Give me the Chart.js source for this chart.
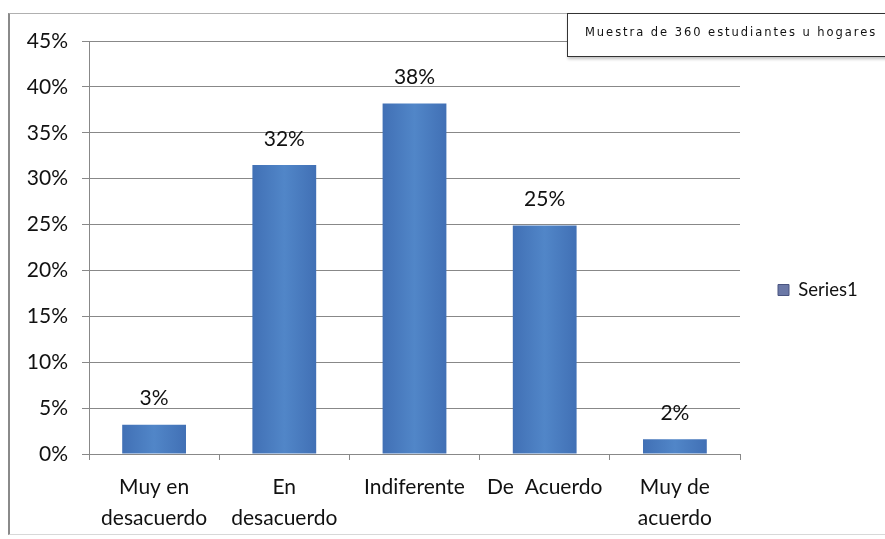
<!DOCTYPE html>
<html><head><meta charset="utf-8">
<script src="https://cdn.jsdelivr.net/npm/chart.js@4/dist/chart.umd.min.js"></script>
<style>
html,body{margin:0;padding:0;background:#fff;}
#wrap{position:relative;width:885px;height:539px;overflow:hidden;}
#frame{position:absolute;left:8px;top:13px;width:900px;height:520px;border-left:2px solid #8a8a8a;border-top:1px solid #b0b0b0;border-bottom:1px solid #d8d8d8;}
#note{position:absolute;left:567px;top:13px;width:330px;height:44px;border:1.5px solid #333;background:#fff;box-shadow:1px 2px 3px rgba(0,0,0,0.25);font-family:"DejaVu Sans",sans-serif;font-size:11.5px;color:#111;line-height:36px;padding-left:17px;box-sizing:border-box;letter-spacing:1.95px;white-space:nowrap;}
canvas{position:absolute;left:0;top:0;}
</style></head>
<body><div id="wrap"><div id="frame"></div><canvas id="c" width="885" height="539"></canvas><div id="note">Muestra de 360 estudiantes u hogares</div></div>
<script>
const categories = [["Muy en","desacuerdo"],["En","desacuerdo"],"Indiferente","De  Acuerdo",["Muy de","acuerdo"]];
const seriesName = "Series1";
const values = [0.032, 0.315, 0.382, 0.249, 0.016];
const valueLabels = ["3%","32%","38%","25%","2%"];
const yTicks = [0,0.05,0.10,0.15,0.20,0.25,0.30,0.35,0.40,0.45];

const FONT = "Lato, 'Open Sans', sans-serif";
const FS = 21;
const ctx = document.getElementById('c').getContext('2d');

const labelPlugin = {
  id:'valLabels',
  afterDatasetsDraw(chart){
    const c = chart.ctx;
    const meta = chart.getDatasetMeta(0);
    c.save();
    c.font = FS + "px " + FONT;
    c.fillStyle = "#111";
    c.textAlign = "center";
    c.textBaseline = "middle";
    meta.data.forEach((bar,i)=>{
      c.fillText(valueLabels[i], bar.x, bar.y - 26);
    });
    c.restore();
  }
};
const legendFit = {
  id:'legendFit',
  beforeInit(chart){
    const fit = chart.legend.fit;
    chart.legend.fit = function(){ fit.bind(chart.legend)(); this.width = 145; };
  }
};

function barGradient(context){
  const chart = context.chart;
  const el = context.element;
  if(!el || !chart.chartArea || !Number.isFinite(el.x) || !Number.isFinite(el.width)) return '#4a7ebb';
  const w = el.width;
  const g = chart.ctx.createLinearGradient(el.x - w/2, 0, el.x + w/2, 0);
  g.addColorStop(0,'#4170b5');
  g.addColorStop(0.5,'#5186c8');
  g.addColorStop(1,'#4170b5');
  return g;
}

const chart = new Chart(ctx,{
  type:'bar',
  data:{labels:categories,datasets:[{label:seriesName,data:values,
    backgroundColor:barGradient,borderWidth:0,
    categoryPercentage:1,barPercentage:0.49}]},
  options:{
    responsive:false,animation:false,
    layout:{padding:{left:9,top:41,right:0,bottom:0}},
    plugins:{
      legend:{position:'right',
        labels:{font:{size:18.5,family:FONT},color:'#111',boxWidth:11,boxHeight:11,padding:38,
          generateLabels(chart){return [{text:seriesName,fillStyle:'#6b78a6',strokeStyle:'#4a5580',lineWidth:1,datasetIndex:0,fontColor:'#111'}];}}},
      tooltip:{enabled:false}
    },
    scales:{
      x:{
        grid:{display:true,drawOnChartArea:false,drawTicks:true,tickLength:6,color:'#888',offset:true},
        border:{display:true,color:'#888',width:1},
        ticks:{font:{size:FS,family:FONT,lineHeight:1.48},color:'#111',padding:12,maxRotation:0,autoSkip:false},
        afterFit(s){s.height=85;}
      },
      y:{
        min:0,max:0.45,
        afterBuildTicks(s){s.ticks = yTicks.map(v=>({value:v}));},
        grid:{color:'#888',lineWidth:1,tickLength:7,drawTicks:true},
        border:{display:true,color:'#888',width:1},
        ticks:{font:{size:FS,family:FONT},color:'#111',padding:14,
          callback:(v)=>Math.round(v*100)+'%'},
        afterFit(s){s.width=80;}
      }
    }
  },
  plugins:[labelPlugin,legendFit]
});
chart.update();
</script></body></html>
